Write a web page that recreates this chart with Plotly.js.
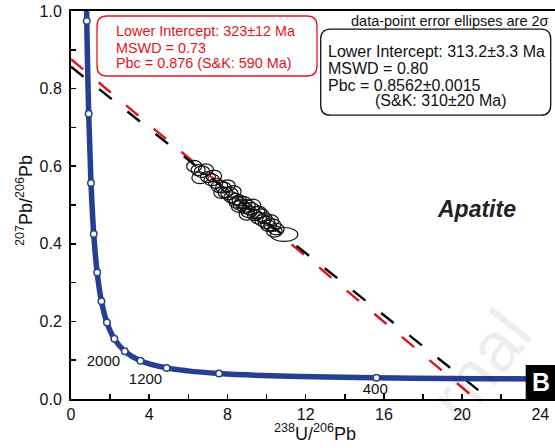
<!DOCTYPE html>
<html>
<head>
<meta charset="utf-8">
<script src="https://cdn.plot.ly/plotly-3.0.1.min.js"></script>
<style>body{margin:0;background:#fff}#chart{width:555px;height:448px}</style>
</head>
<body>
<div id="chart"></div>
<script>
// ---- data ----
// Tera-Wasserburg concordia curve (238U/206Pb, 207Pb/206Pb)
const concordiaX = [0.763, 0.806, 0.904, 1.022, 1.163, 1.337, 1.556, 1.838, 2.217, 2.749, 3.550, 4.888, 5.960, 7.568, 10.25, 15.62, 20.99, 25.29];
const concordiaY = [1.123, 0.974, 0.735, 0.557, 0.425, 0.326, 0.252, 0.197, 0.155, 0.123, 0.0987, 0.0801, 0.0725, 0.0658, 0.0599, 0.0547, 0.0523, 0.0512];
// concordia age ticks (every 400 Ma, 400..5200)
const ageTickX = [15.62, 7.568, 4.888, 3.550, 2.749, 2.217, 1.838, 1.556, 1.337, 1.163, 1.022, 0.904, 0.806];
const ageTickY = [0.0547, 0.0658, 0.0801, 0.0987, 0.123, 0.155, 0.197, 0.252, 0.326, 0.425, 0.557, 0.735, 0.974];
// age labels
const ageLabels = ["2000", "1200", "400"];
const ageLabelX = [1.66, 3.81, 15.56];
const ageLabelY = [0.094, 0.049, 0.023];
// discordia lines (black: this fit, red: alternative fit)
const blackLineX = [0, 21.4];
const blackLineY = [0.8562, 0];
const redLineX = [0, 20.7];
const redLineY = [0.876, 0];
// apatite analyses: centers and 2-sigma half-widths
const ptX = [6.3, 6.5, 6.7, 6.6, 6.9, 7.0, 7.2, 7.3, 7.4, 7.6, 7.7, 7.8, 7.9, 8.0, 8.1, 8.2, 8.3, 8.4, 8.5, 8.6, 8.6, 8.7, 8.8, 8.9, 9.0, 9.0, 9.1, 9.2, 9.3, 9.4, 9.5, 9.6, 9.6, 9.7, 9.8, 9.9, 10.0, 10.1, 10.2, 10.3, 10.4, 10.5, 10.9];
const ptY = [0.600, 0.590, 0.586, 0.570, 0.592, 0.572, 0.565, 0.575, 0.556, 0.548, 0.532, 0.545, 0.532, 0.550, 0.530, 0.520, 0.535, 0.515, 0.507, 0.512, 0.496, 0.500, 0.506, 0.492, 0.498, 0.476, 0.482, 0.490, 0.500, 0.474, 0.480, 0.466, 0.482, 0.474, 0.460, 0.466, 0.455, 0.446, 0.460, 0.448, 0.432, 0.438, 0.424];
const errX = [0.38, 0.36, 0.40, 0.42, 0.38, 0.38, 0.40, 0.40, 0.36, 0.42, 0.40, 0.40, 0.38, 0.40, 0.44, 0.38, 0.40, 0.40, 0.42, 0.36, 0.40, 0.40, 0.44, 0.38, 0.42, 0.40, 0.40, 0.44, 0.40, 0.38, 0.42, 0.40, 0.40, 0.44, 0.40, 0.38, 0.42, 0.40, 0.42, 0.44, 0.40, 0.40, 0.70];
const errY = [0.015, 0.014, 0.015, 0.015, 0.014, 0.014, 0.015, 0.015, 0.013, 0.016, 0.015, 0.014, 0.014, 0.015, 0.016, 0.014, 0.015, 0.015, 0.015, 0.014, 0.015, 0.015, 0.016, 0.014, 0.016, 0.015, 0.015, 0.016, 0.015, 0.014, 0.016, 0.015, 0.015, 0.016, 0.015, 0.014, 0.016, 0.014, 0.015, 0.016, 0.015, 0.015, 0.018];
// texts
const redBoxLines = ["Lower Intercept: 323\u00b112 Ma", "MSWD = 0.73", "Pbc = 0.876 (S&K: 590 Ma)"];
const blackBoxLines = ["Lower Intercept: 313.2\u00b13.3 Ma", "MSWD = 0.80", "Pbc = 0.8562\u00b10.0015", "(S&K: 310\u00b120 Ma)"];
const noteText = "data-point error ellipses are 2\u03c3";
const sampleName = "Apatite";
const panelLabel = "B";
const watermarkText = "rnal";

// ---- layout helpers ----
const W = 555, H = 448, ML = 71, MR = 0, MT = 11, MB = 49;
const PW = W - ML - MR, PH = H - MT - MB;
const px = v => (v - ML) / PW;
const py = v => (H - MB - v) / PH;
const FONT = "Liberation Sans, Arial, Helvetica, sans-serif";
const RED = "#e3121d", BLUE = "#263f93";

function roundedBox(cx, cy, w, h, r, color) {
  const p = `M ${-w + r},${-h} L ${w - r},${-h} Q ${w},${-h} ${w},${-h + r} L ${w},${h - r} Q ${w},${h} ${w - r},${h} L ${-w + r},${h} Q ${-w},${h} ${-w},${h - r} L ${-w},${-h + r} Q ${-w},${-h} ${-w + r},${-h} Z`;
  return {type: 'path', xref: 'paper', yref: 'paper', xsizemode: 'pixel', ysizemode: 'pixel',
    xanchor: px(cx), yanchor: py(cy), path: p, line: {color: color, width: 1.3}, fillcolor: 'rgba(255,255,255,0)', layer: 'above'};
}

const traces = [
  {x: redLineX, y: redLineY, mode: 'lines', line: {color: RED, width: 2.4, dash: '16px,20px'}, hoverinfo: 'skip'},
  {x: blackLineX, y: blackLineY, mode: 'lines', line: {color: '#000', width: 2.4, dash: '16px,20px'}, hoverinfo: 'skip'},
  {x: concordiaX, y: concordiaY, mode: 'lines', line: {color: BLUE, width: 5.5, shape: 'spline', smoothing: 1}, hoverinfo: 'skip'},
  {x: ageTickX, y: ageTickY, mode: 'markers', marker: {size: 6.5, color: '#fff', line: {color: BLUE, width: 1.5}}, hoverinfo: 'skip'},
  {x: ageLabelX, y: ageLabelY, mode: 'text', text: ageLabels, textposition: 'middle center',
   textfont: {family: FONT, size: 15, color: '#111'}, hoverinfo: 'skip', cliponaxis: false}
];

const shapes = [];
for (let i = 0; i < ptX.length; i++) {
  shapes.push({type: 'circle', xref: 'x', yref: 'y', x0: ptX[i] - errX[i], x1: ptX[i] + errX[i],
    y0: ptY[i] - errY[i], y1: ptY[i] + errY[i], line: {color: '#111', width: 1.2}, layer: 'above'});
}
shapes.push(roundedBox(207, 46, 110, 30, 10, RED));
shapes.push(roundedBox(435.7, 72.2, 115, 43, 10, '#111'));
shapes.push({type: 'rect', xref: 'paper', yref: 'paper', x0: px(525.7), x1: px(560), y0: py(399), y1: py(365),
  fillcolor: '#000', line: {width: 0}, layer: 'above'});

const annotations = [];
// faint watermark (drawn first so other texts sit on top)
annotations.push({xref: 'paper', yref: 'paper', x: px(480), y: py(366), xanchor: 'center', yanchor: 'middle', textangle: -52,
  text: watermarkText, showarrow: false, font: {family: FONT, size: 70, color: 'rgba(0,0,0,0.07)'}});
const redY = [31, 48, 63.5];
redBoxLines.forEach((t, i) => annotations.push({xref: 'paper', yref: 'paper', x: px(113.5), y: py(redY[i]), xanchor: 'left', yanchor: 'middle',
  text: t, showarrow: false, font: {family: FONT, size: 14.4, color: RED}}));
const blkY = [51.5, 68.5, 85, 101];
const blkX = [326.2, 326.2, 326.2, 372.5];
blackBoxLines.forEach((t, i) => annotations.push({xref: 'paper', yref: 'paper', x: px(blkX[i]), y: py(blkY[i]), xanchor: 'left', yanchor: 'middle',
  text: t, showarrow: false, font: {family: FONT, size: 16, color: '#111'}}));
annotations.push({xref: 'paper', yref: 'paper', x: px(551), y: py(21), xanchor: 'right', yanchor: 'middle',
  text: noteText, showarrow: false, font: {family: FONT, size: 14.5, color: '#111'}});
annotations.push({xref: 'paper', yref: 'paper', x: px(476.7), y: py(209), xanchor: 'center', yanchor: 'middle',
  text: '<b><i>' + sampleName + '</i></b>', showarrow: false, font: {family: FONT, size: 23, color: '#222'}});
annotations.push({xref: 'paper', yref: 'paper', x: px(541), y: py(382), xanchor: 'center', yanchor: 'middle',
  text: '<b>' + panelLabel + '</b>', showarrow: false, font: {family: FONT, size: 25, color: '#fff'}});
annotations.push({xref: 'paper', yref: 'paper', x: px(24), y: py(201), xanchor: 'center', yanchor: 'middle', textangle: -90,
  text: '<sup>207</sup>Pb/<sup>206</sup>Pb', showarrow: false, font: {family: FONT, size: 18, color: '#111'}});
annotations.push({xref: 'paper', yref: 'paper', x: px(315), y: py(433), xanchor: 'center', yanchor: 'middle',
  text: '<sup>238</sup>U/<sup>206</sup>Pb', showarrow: false, font: {family: FONT, size: 18, color: '#111'}});

const axisCommon = {showgrid: false, zeroline: false, showline: true, linecolor: '#000', linewidth: 2,
  ticks: 'inside', ticklen: 5, tickwidth: 1.5, tickcolor: '#000',
  tickfont: {family: FONT, size: 16, color: '#111'}};

const layout = {
  width: W, height: H, margin: {l: ML, r: MR, t: MT, b: MB, pad: 0},
  paper_bgcolor: '#fff', plot_bgcolor: '#fff', showlegend: false,
  xaxis: Object.assign({}, axisCommon, {range: [0, 24.75], dtick: 4, tick0: 0, mirror: true,
    minor: {dtick: 2, ticks: 'inside', ticklen: 5, tickwidth: 1.5, tickcolor: '#000'}}),
  yaxis: Object.assign({}, axisCommon, {range: [0, 1.0], dtick: 0.2, tick0: 0, tickformat: '.1f', ticklabelstandoff: 4,
    minor: {dtick: 0.1, ticks: 'inside', ticklen: 5, tickwidth: 1.5, tickcolor: '#000'}}),
  shapes: shapes, annotations: annotations
};

Plotly.newPlot('chart', traces, layout, {staticPlot: true, displayModeBar: false});
</script>
</body>
</html>
